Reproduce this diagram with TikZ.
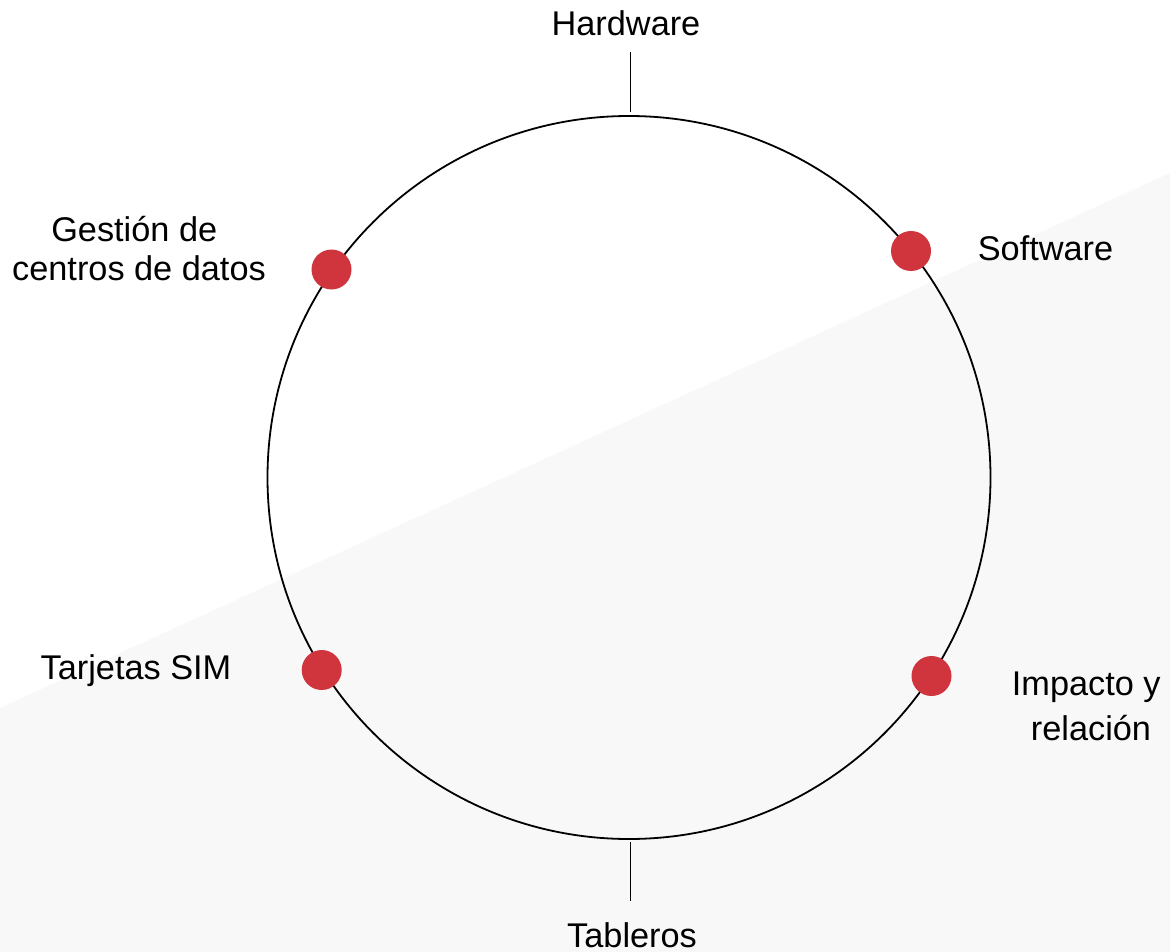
\documentclass[tikz,border=0pt]{standalone}
\usepackage{fontspec}
\setmainfont{Liberation Sans}
\definecolor{dotred}{HTML}{D0343D}
\definecolor{bggray}{HTML}{F8F8F8}
\begin{document}
\begin{tikzpicture}[x=1pt,y=-1pt,
  lbl/.style={inner sep=0pt, anchor=base, align=center, font=\fontsize{34.3}{39}\selectfont},
  dot/.style={circle, fill=dotred, draw=none, minimum size=40pt, inner sep=0pt},
  ring/.style={draw=black, line width=1.8pt},
  tick/.style={draw=black, line width=1.8pt}]
\useasboundingbox (0,0) rectangle (1170,952);
\fill[white] (0,0) rectangle (1170,952);
\fill[bggray] (0,708) -- (1170,173) -- (1170,952) -- (0,952) -- cycle;
\draw[ring] (629,477.5) circle[radius=361.5];
\coordinate (t1) at (630.5,52);
\coordinate (t2) at (630.5,112);
\coordinate (b1) at (630.5,842);
\coordinate (b2) at (630.5,901);
\draw[tick] (t1) -- (t2);
\draw[tick] (b1) -- (b2);
\node[dot] (d1) at (331.5,269.5) {};
\node[dot] (d2) at (911,251) {};
\node[dot] (d3) at (321.7,670) {};
\node[dot] (d4) at (931.5,676) {};
\node[lbl] (hw) at (626,36) {Hardware};
\node[lbl] (sw) at (1045.5,260) {Software};
\node[lbl] (gc) at (139,280) {Gestión de\hspace*{9.5pt}\\centros de datos};
\node[lbl] (ts) at (136,679) {Tarjetas SIM};
\node[lbl] (ir) at (1091,740) {Impacto y\hspace*{9.5pt}\\[6pt]relación};
\node[lbl] (tb) at (632,947) {Tableros};
\end{tikzpicture}
\end{document}
